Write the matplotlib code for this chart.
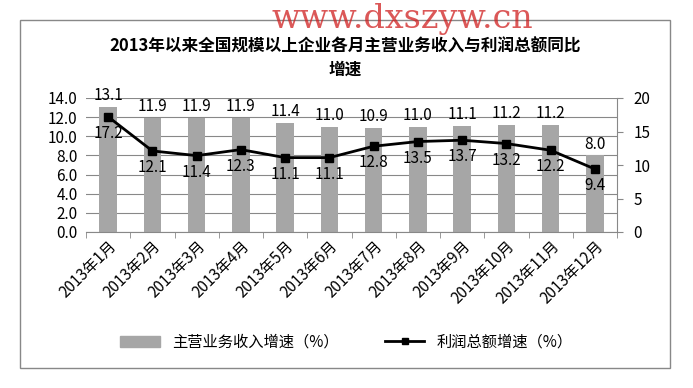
import numpy as np
import matplotlib
matplotlib.use('Agg')
import matplotlib.pyplot as plt
from matplotlib.patches import Rectangle

plt.rcParams['font.family'] = ['Noto Sans CJK SC', 'DejaVu Sans']

months = ['2013年1月', '2013年2月', '2013年3月', '2013年4月', '2013年5月', '2013年6月',
          '2013年7月', '2013年8月', '2013年9月', '2013年10月', '2013年11月', '2013年12月']
revenue = [13.1, 11.9, 11.9, 11.9, 11.4, 11.0, 10.9, 11.0, 11.1, 11.2, 11.2, 8.0]
profit = [17.2, 12.1, 11.4, 12.3, 11.1, 11.1, 12.8, 13.5, 13.7, 13.2, 12.2, 9.4]

fig = plt.figure(figsize=(6.93, 3.88), dpi=100)
fig.patches.append(Rectangle((20 / 693, 1 - 368 / 388), 650 / 693, 348 / 388,
                             transform=fig.transFigure, fill=False,
                             edgecolor='#888888', linewidth=1))

ax = fig.add_axes([86 / 693, 1 - 232 / 388, 531 / 693, 134 / 388])
x = np.arange(len(months))
ax.bar(x, revenue, width=0.4, color='#A6A6A6', zorder=2)
ax.set_ylim(0, 14)
ax.set_yticks(np.arange(0, 14.1, 2))
ax.set_yticklabels(['%.1f' % v for v in np.arange(0, 14.1, 2)])
ax.set_xlim(-0.5, len(months) - 0.5)
ax.grid(axis='y', color='#888888', linewidth=0.8, zorder=0)
ax.set_xticks(x)
ax.set_xticklabels(months, rotation=45, ha='right', rotation_mode='anchor', fontsize=11)
ax.set_xticks(np.arange(-0.5, len(months)), minor=True)
ax.tick_params(axis='x', which='major', length=0, pad=4)
ax.tick_params(axis='x', which='minor', length=4, color='#888888')
ax.tick_params(axis='y', length=0, labelsize=11, pad=6)
for s in ['top', 'right', 'left']:
    ax.spines[s].set_visible(False)
ax.spines['bottom'].set_color('#888888')
for i, v in enumerate(revenue):
    ax.text(i, v + 0.3, '%.1f' % v, ha='center', va='bottom', fontsize=11)

ax2 = ax.twinx()
ax2.plot(x, profit, color='black', linewidth=2, marker='s', markersize=6, zorder=3)
ax2.set_ylim(0, 20)
ax2.set_yticks([0, 5, 10, 15, 20])
ax2.tick_params(axis='y', length=4, color='#888888', labelsize=11, pad=8)
for s in ['top', 'left', 'bottom']:
    ax2.spines[s].set_visible(False)
ax2.spines['right'].set_color('#888888')
for i, v in enumerate(profit):
    ax2.text(i, v - 1.2, '%.1f' % v, ha='center', va='top', fontsize=11)

fig.text(0.498, 1 - 47 / 388, '2013年以来全国规模以上企业各月主营业务收入与利润总额同比',
         ha='center', va='center', fontsize=12, fontweight='bold')
fig.text(0.498, 1 - 70 / 388, '增速', ha='center', va='center', fontsize=12, fontweight='bold')

# watermark (kept just above the title)
fig.text(0.58, 1 - 19 / 388, 'www.dxszyw.cn', ha='center', va='center',
         fontsize=24, family='DejaVu Serif', color='#D02020', alpha=0.75)

handles = [plt.Rectangle((0, 0), 1, 1, color='#A6A6A6'),
           plt.Line2D([], [], color='black', linewidth=2, marker='s', markersize=5)]
fig.legend(handles, ['主营业务收入增速（%）', '利润总额增速（%）'], loc='center',
           bbox_to_anchor=(0.5, 1 - 342 / 388), ncol=2, frameon=False, fontsize=11,
           handlelength=2.6, columnspacing=3)

fig.savefig('out.png', dpi=100)
